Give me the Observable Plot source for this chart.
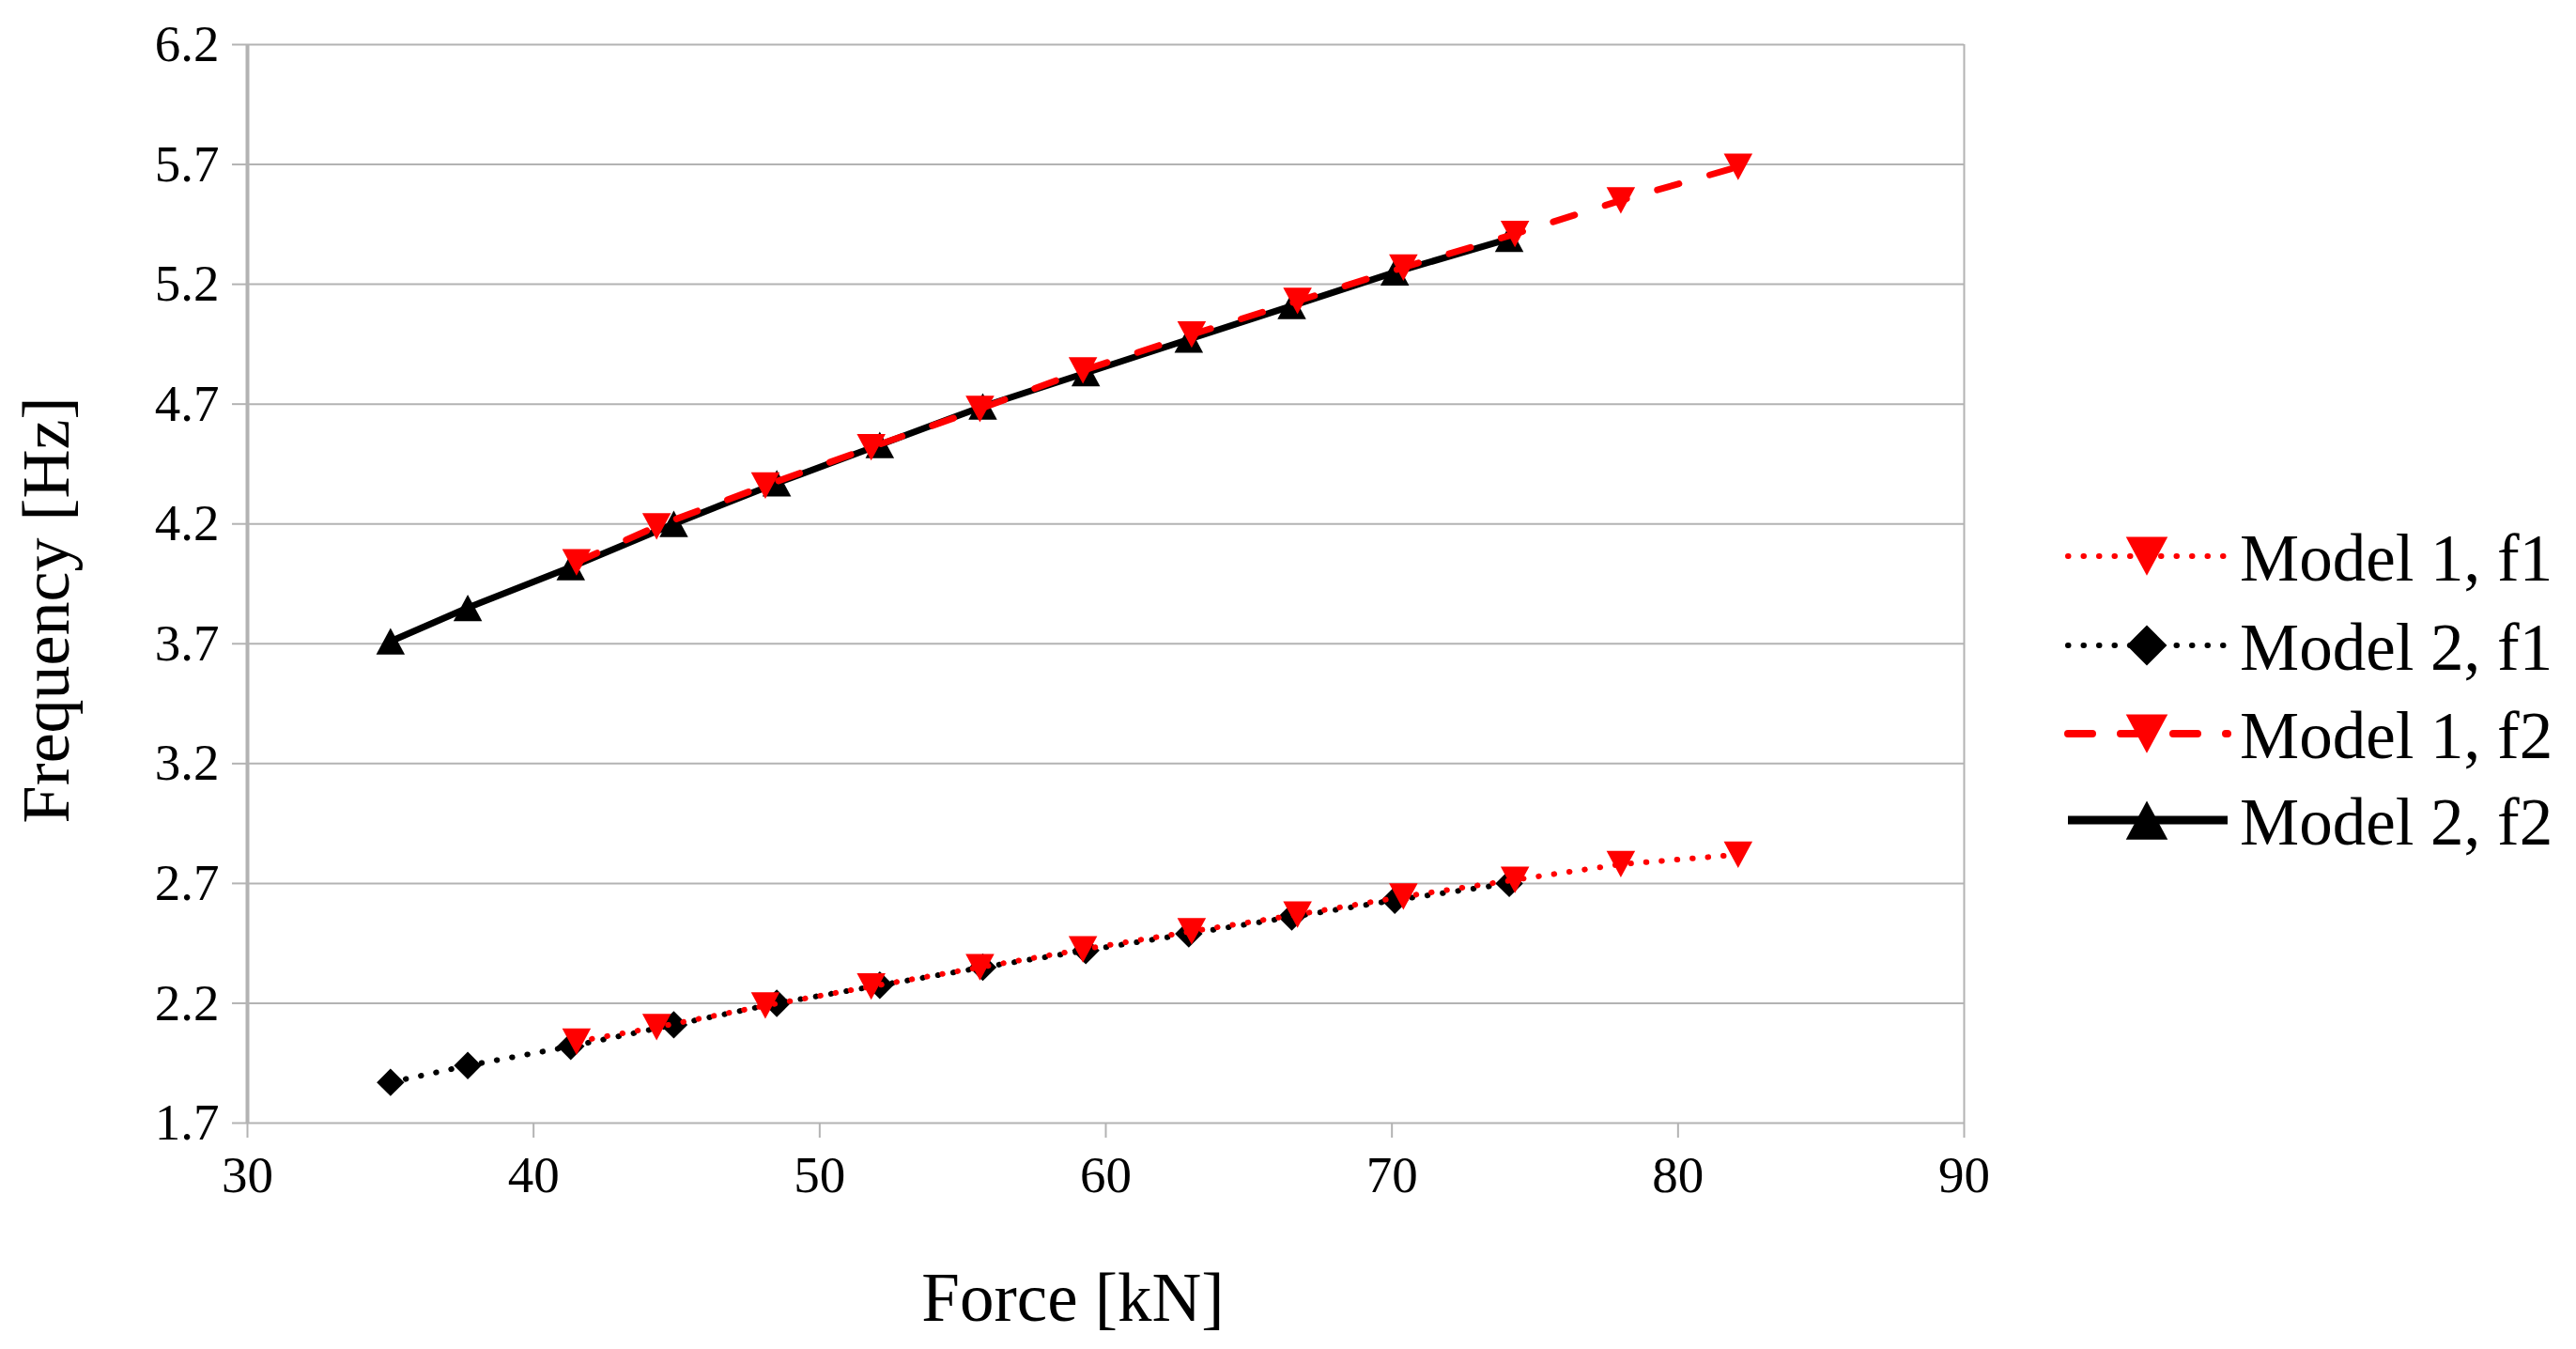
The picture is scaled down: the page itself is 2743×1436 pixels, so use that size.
<!DOCTYPE html>
<html><head><meta charset="utf-8">
<script src="https://cdn.jsdelivr.net/npm/d3@7"></script>
<script src="https://cdn.jsdelivr.net/npm/@observablehq/plot@0.6"></script>
<style>
html,body{margin:0;padding:0;background:#fff;}
#chart{position:relative;width:2743px;height:1436px;}
#chart svg, #chart svg text{font-family:'Liberation Serif','Times New Roman',serif !important;}
#legend{position:absolute;left:0;top:0;pointer-events:none;}
</style></head><body><div id="chart"></div>
<script>
const xLabel = "Force [kN]";
const yLabel = "Frequency [Hz]";
const xTicks = [30, 40, 50, 60, 70, 80, 90];
const yTicks = [1.7, 2.2, 2.7, 3.2, 3.7, 4.2, 4.7, 5.2, 5.7, 6.2];
const seriesNames = ["Model 1, f1", "Model 2, f1", "Model 1, f2", "Model 2, f2"];

const model1Force = [41.5, 44.3, 48.1, 51.8, 55.6, 59.2, 63.0, 66.7, 70.4, 74.3, 78.0, 82.1];
const model1F1 = [2.04, 2.10, 2.19, 2.27, 2.35, 2.425, 2.50, 2.57, 2.645, 2.715, 2.78, 2.82];
const model1F2 = [4.04, 4.19, 4.36, 4.52, 4.68, 4.84, 4.99, 5.13, 5.27, 5.41, 5.55, 5.69];

const model2Force = [35.0, 37.7, 41.3, 44.9, 48.5, 52.1, 55.7, 59.3, 62.9, 66.5, 70.1, 74.1];
const model2F1 = [1.87, 1.94, 2.02, 2.11, 2.20, 2.275, 2.35, 2.42, 2.49, 2.56, 2.63, 2.70];
const model2F2 = [3.71, 3.85, 4.02, 4.20, 4.37, 4.53, 4.69, 4.83, 4.97, 5.11, 5.25, 5.39];

const toRows = (xs, ys) => xs.map((x, i) => ({x, y: ys[i]}));
const s11 = toRows(model1Force, model1F1);
const s21 = toRows(model2Force, model2F1);
const s12 = toRows(model1Force, model1F2);
const s22 = toRows(model2Force, model2F2);

// custom marker symbols (bounding box centred on the point)
const triDown = {draw(ctx, size) { const r = Math.sqrt(size / Math.PI); const w = r * 1.35, h = r * 1.25;
  ctx.moveTo(-w, -h); ctx.lineTo(w, -h); ctx.lineTo(0, h); ctx.closePath(); }};
const triUp = {draw(ctx, size) { const r = Math.sqrt(size / Math.PI); const w = r * 1.35, h = r * 1.25;
  ctx.moveTo(-w, h); ctx.lineTo(w, h); ctx.lineTo(0, -h); ctx.closePath(); }};
const diamond = {draw(ctx, size) { const r = Math.sqrt(size / Math.PI); const w = r * 1.3, h = r * 1.3;
  ctx.moveTo(0, -h); ctx.lineTo(w, 0); ctx.lineTo(0, h); ctx.lineTo(-w, 0); ctx.closePath(); }};

const GRID = "#b3b3b3";
const RED = "#ff0000";
const FONT = "'Liberation Serif', 'Times New Roman', serif";
const DOT = "0.5 16";
const DASH = "24 34";
const R = 11.3;

const plot = Plot.plot({
  width: 2743, height: 1436,
  marginLeft: 263, marginRight: 652, marginTop: 47, marginBottom: 241,
  style: {fontFamily: FONT, fontSize: "55px", background: "#fff", color: "#000", overflow: "visible"},
  x: {domain: [xTicks[0], xTicks[xTicks.length - 1]]},
  y: {domain: [yTicks[0], yTicks[yTicks.length - 1]]},
  marks: [
    Plot.gridY(yTicks, {stroke: GRID, strokeOpacity: 1, strokeWidth: 2}),
    Plot.ruleX([xTicks[xTicks.length - 1]], {stroke: GRID, strokeWidth: 2}),
    Plot.ruleX([xTicks[0]], {stroke: GRID, strokeWidth: 4}),
    Plot.axisY(yTicks, {tickSize: 16, tickPadding: 14, stroke: GRID, strokeWidth: 2, fill: "#000",
      tickFormat: d => d.toFixed(1), label: null, fontSize: 55, fontFamily: FONT}),
    Plot.axisX(xTicks, {tickSize: 16, tickPadding: 18, stroke: GRID, strokeWidth: 2, fill: "#000",
      label: null, fontSize: 55, fontFamily: FONT}),
    Plot.line(s22, {x: "x", y: "y", stroke: "#000", strokeWidth: 7}),
    Plot.line(s21, {x: "x", y: "y", stroke: "#000", strokeWidth: 6, strokeDasharray: DOT, strokeLinecap: "round"}),
    Plot.dot(s22, {x: "x", y: "y", symbol: triUp, r: R, fill: "#000", stroke: "none"}),
    Plot.dot(s21, {x: "x", y: "y", symbol: diamond, r: R, fill: "#000", stroke: "none"}),
    Plot.line(s12, {x: "x", y: "y", stroke: RED, strokeWidth: 7, strokeDasharray: DASH, strokeLinecap: "round"}),
    Plot.line(s11, {x: "x", y: "y", stroke: RED, strokeWidth: 6, strokeDasharray: DOT, strokeLinecap: "round"}),
    Plot.dot(s12, {x: "x", y: "y", symbol: triDown, r: R, fill: RED, stroke: "none"}),
    Plot.dot(s11, {x: "x", y: "y", symbol: triDown, r: R, fill: RED, stroke: "none"}),
    Plot.text([xLabel], {text: d => d, frameAnchor: "bottom", lineAnchor: "middle", textAnchor: "middle",
      dx: -35, dy: 187, fontSize: 73, fill: "#000", fontFamily: FONT}),
    Plot.text([yLabel], {text: d => d, frameAnchor: "left", lineAnchor: "middle", textAnchor: "middle",
      rotate: -90, dx: -214, dy: 28, fontSize: 72, fill: "#000", fontFamily: FONT})
  ]
});
document.getElementById("chart").appendChild(plot);

// legend (right side)
const legendItems = [
  {name: seriesNames[0], color: RED, width: 6, dash: DOT, cap: "round", symbol: triDown},
  {name: seriesNames[1], color: "#000", width: 6, dash: DOT, cap: "round", symbol: diamond},
  {name: seriesNames[2], color: RED, width: 8, dash: "26 30", cap: "round", symbol: triDown},
  {name: seriesNames[3], color: "#000", width: 9, dash: null, cap: "butt", symbol: triUp}
];
const rowY = [592, 687, 781, 873];
const svg = d3.select("#chart").append("svg").attr("id", "legend")
  .attr("width", 2743).attr("height", 1436);
legendItems.forEach((it, i) => {
  const g = svg.append("g").attr("transform", `translate(0,${rowY[i]})`);
  g.append("line").attr("x1", 2202).attr("x2", 2372).attr("y1", 0).attr("y2", 0)
    .attr("stroke", it.color).attr("stroke-width", it.width)
    .attr("stroke-dasharray", it.dash).attr("stroke-linecap", it.cap);
  g.append("path").attr("transform", "translate(2286,0)")
    .attr("d", d3.symbol(it.symbol, Math.PI * 16.5 * 16.5)())
    .attr("fill", it.color);
  g.append("text").attr("x", 2385).attr("y", 26).attr("font-family", FONT)
    .attr("font-size", 71).attr("fill", "#000").text(it.name);
});
</script></body></html>
